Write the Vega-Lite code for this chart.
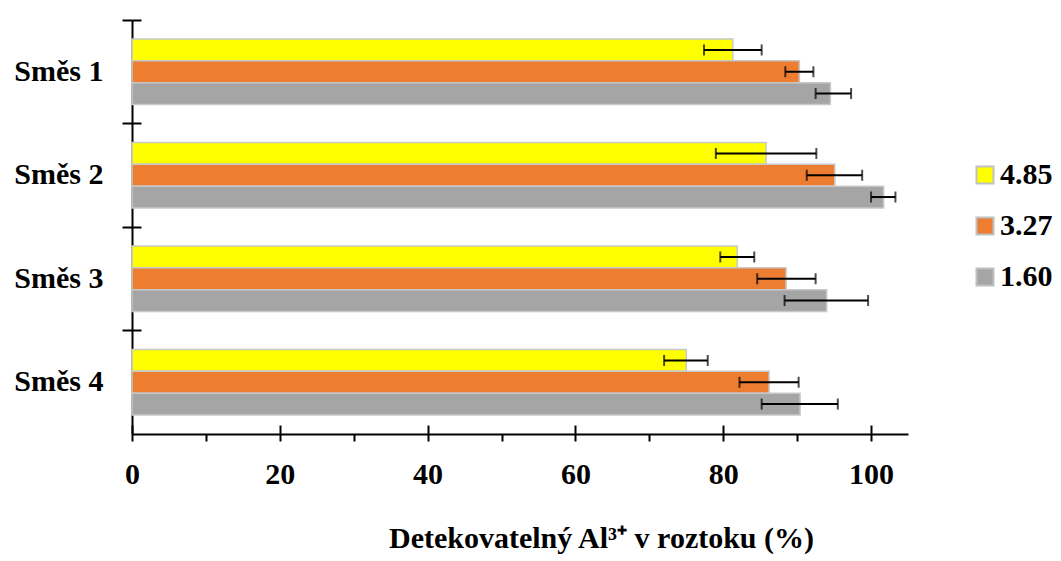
{
  "$schema": "https://vega.github.io/schema/vega-lite/v6.json",
  "width": 776,
  "height": 414,
  "autosize": {"type": "none"},
  "padding": {"left": 132, "top": 20, "right": 153, "bottom": 127},
  "background": "white",
  "config": {
    "view": {"stroke": null},
    "font": "Liberation Serif",
    "axis": {"grid": false}
  },
  "data": {
    "values": [
      {"group": "Směs 1", "ph": "4.85", "value": 81.3, "lo": 77.4, "hi": 85.2},
      {"group": "Směs 1", "ph": "3.27", "value": 90.3, "lo": 88.4, "hi": 92.2},
      {"group": "Směs 1", "ph": "1.60", "value": 94.5, "lo": 92.5, "hi": 97.3},
      {"group": "Směs 2", "ph": "4.85", "value": 85.8, "lo": 79.0, "hi": 92.6},
      {"group": "Směs 2", "ph": "3.27", "value": 95.1, "lo": 91.3, "hi": 98.8},
      {"group": "Směs 2", "ph": "1.60", "value": 101.7, "lo": 100.0, "hi": 103.3},
      {"group": "Směs 3", "ph": "4.85", "value": 81.9, "lo": 79.6, "hi": 84.2},
      {"group": "Směs 3", "ph": "3.27", "value": 88.5, "lo": 84.6, "hi": 92.5},
      {"group": "Směs 3", "ph": "1.60", "value": 94.0, "lo": 88.3, "hi": 99.6},
      {"group": "Směs 4", "ph": "4.85", "value": 75.0, "lo": 72.0, "hi": 77.9},
      {"group": "Směs 4", "ph": "3.27", "value": 86.2, "lo": 82.2, "hi": 90.2},
      {"group": "Směs 4", "ph": "1.60", "value": 90.4, "lo": 85.2, "hi": 95.5}
    ]
  },
  "resolve": {"axis": {"x": "independent", "y": "independent"}},
  "layer": [
    {
      "mark": {"type": "bar", "stroke": "#c8c8c8", "strokeWidth": 1.5},
      "encoding": {
        "y": {
          "field": "group", "type": "nominal",
          "sort": ["Směs 1", "Směs 2", "Směs 3", "Směs 4"],
          "scale": {"paddingInner": 0, "paddingOuter": 0},
          "axis": {
            "title": null, "bandPosition": 0, "domainColor": "black", "domainWidth": 2,
            "tickColor": "black", "tickWidth": 2, "tickSize": 10,
            "labelFont": "Liberation Serif", "labelFontWeight": "bold", "labelFontSize": 30,
            "labelColor": "black", "labelPadding": 19, "labelBaseline": "middle", "labelBound": false
          }
        },
        "yOffset": {
          "field": "ph", "type": "nominal",
          "sort": ["4.85", "3.27", "1.60"],
          "scale": {"paddingInner": 0, "paddingOuter": 0.875}
        },
        "x": {
          "field": "value", "type": "quantitative",
          "scale": {"domain": [0, 105], "nice": false, "zero": true},
          "axis": {
            "title": "Detekovatelný Al³⁺ v roztoku (%)",
            "values": [0, 10, 20, 30, 40, 50, 60, 70, 80, 90, 100],
            "labelExpr": "datum.value % 20 == 0 ? datum.label : ''",
            "domainColor": "black", "domainWidth": 2,
            "tickColor": "black", "tickWidth": 2, "tickSize": 7,
            "labelFont": "Liberation Serif", "labelFontWeight": "bold", "labelFontSize": 30,
            "labelColor": "black", "labelPadding": 18, "labelFlush": false, "labelOverlap": false,
            "titleFont": "Liberation Serif", "titleFontWeight": "bold", "titleFontSize": 30,
            "titleColor": "black", "titleX": 469, "titleY": 113, "titleBaseline": "alphabetic", "titleAlign": "center"
          }
        },
        "color": {
          "field": "ph", "type": "nominal",
          "scale": {"domain": ["4.85", "3.27", "1.60"], "range": ["#ffff00", "#ed7d31", "#a5a5a5"]},
          "legend": {
            "title": null, "orient": "none", "legendX": 838, "legendY": 140,
            "symbolType": "square", "symbolSize": 289, "symbolStrokeColor": "#c0c0c0", "symbolStrokeWidth": 2,
            "labelFont": "Liberation Serif", "labelFontWeight": "bold", "labelFontSize": 30,
            "labelColor": "black", "labelOffset": 0, "rowPadding": 21, "padding": 0
          }
        }
      }
    },
    {
      "mark": {"type": "rule", "color": "black", "strokeWidth": 2},
      "encoding": {
        "y": {
          "field": "group", "type": "nominal",
          "sort": ["Směs 1", "Směs 2", "Směs 3", "Směs 4"],
          "axis": {
            "orient": "right", "offset": -776, "title": null, "bandPosition": 0,
            "domain": false, "labels": false, "tickColor": "black", "tickWidth": 2, "tickSize": 9
          }
        },
        "yOffset": {"field": "ph", "type": "nominal", "sort": ["4.85", "3.27", "1.60"]},
        "x": {
          "field": "lo", "type": "quantitative",
          "axis": {
            "orient": "top", "offset": -414, "title": null, "values": [0, 20, 40, 60, 80, 100],
            "domain": false, "labels": false, "tickColor": "black", "tickWidth": 2, "tickSize": 9
          }
        },
        "x2": {"field": "hi"}
      }
    },
    {
      "mark": {"type": "tick", "color": "black", "thickness": 2, "size": 11},
      "encoding": {
        "y": {"field": "group", "type": "nominal", "sort": ["Směs 1", "Směs 2", "Směs 3", "Směs 4"], "axis": null},
        "yOffset": {"field": "ph", "type": "nominal", "sort": ["4.85", "3.27", "1.60"]},
        "x": {"field": "lo", "type": "quantitative", "axis": null}
      }
    },
    {
      "mark": {"type": "tick", "color": "black", "thickness": 2, "size": 11},
      "encoding": {
        "y": {"field": "group", "type": "nominal", "sort": ["Směs 1", "Směs 2", "Směs 3", "Směs 4"], "axis": null},
        "yOffset": {"field": "ph", "type": "nominal", "sort": ["4.85", "3.27", "1.60"]},
        "x": {"field": "hi", "type": "quantitative", "axis": null}
      }
    }
  ]
}
